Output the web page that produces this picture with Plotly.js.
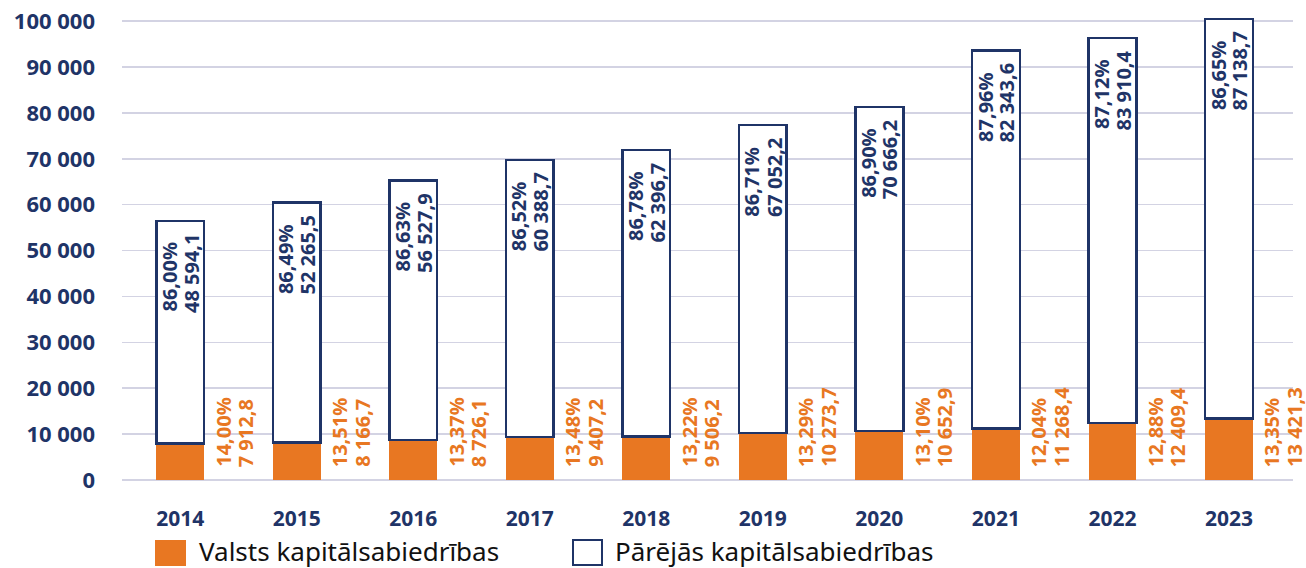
<!DOCTYPE html>
<html>
<head>
<meta charset="utf-8">
<script src="https://cdn.plot.ly/plotly-3.0.1.min.js"></script>
<style>html,body{margin:0;padding:0;background:#fff;}#chart{width:1306px;height:568px;}</style>
</head>
<body>
<div id="chart"></div>
<script>
const years = ['2014','2015','2016','2017','2018','2019','2020','2021','2022','2023'];
const valstsValues = [7912.8, 8166.7, 8726.1, 9407.2, 9506.2, 10273.7, 10652.9, 11268.4, 12409.4, 13421.3];
const valstsPct = ['14,00%','13,51%','13,37%','13,48%','13,22%','13,29%','13,10%','12,04%','12,88%','13,35%'];
const parejasValues = [48594.1, 52265.5, 56527.9, 60388.7, 62396.7, 67052.2, 70666.2, 82343.6, 83910.4, 87138.7];
const parejasPct = ['86,00%','86,49%','86,63%','86,52%','86,78%','86,71%','86,90%','87,96%','87,12%','86,65%'];
const seriesNames = ['Valsts kapitālsabiedrības', 'Pārējās kapitālsabiedrības'];

const NAVY = '#1f3467';
const ORANGE = '#e87722';
const LBL_FONT = 'Open Sans';
const LBL_SIZE = 20;

function fmt(v){
  const s = v.toFixed(1).split('.');
  const intPart = s[0].replace(/\B(?=(\d{3})+(?!\d))/g, ' ');
  return intPart + ',' + s[1];
}
const cv = document.createElement('canvas').getContext('2d');
cv.font = 'bold ' + LBL_SIZE + 'px "' + LBL_FONT + '"';
const tw = s => cv.measureText(s).width;

const traces = [
  {type:'bar', x:years, y:valstsValues, name:seriesNames[0], width:0.41,
   marker:{color:ORANGE, line:{width:0}}, hoverinfo:'y', showlegend:false, cliponaxis:false},
  {type:'bar', x:years, y:parejasValues, name:seriesNames[1], width:0.41,
   marker:{color:'#ffffff', line:{color:NAVY, width:2.5}}, hoverinfo:'y', showlegend:false, cliponaxis:false}
];

const annotations = [];
function lbl(i, y, txt, color, xshift, yshift, yanchor){
  annotations.push({x:i, y:y, xref:'x', yref:'y', yanchor:yanchor, xanchor:'center',
    xshift:xshift, yshift:yshift, textangle:-90, showarrow:false,
    text:'<b>' + txt + '</b>', font:{family:LBL_FONT, size:LBL_SIZE, color:color}});
}
years.forEach((yr,i)=>{
  const total = valstsValues[i] + parejasValues[i];
  const a = parejasPct[i], b = fmt(parejasValues[i]);
  const m = Math.max(tw(a), tw(b));
  lbl(i, total, a, NAVY, -11, -10 - (m - tw(a)), 'top');
  lbl(i, total, b, NAVY, 11, -10 - (m - tw(b)), 'top');
  lbl(i, 0, valstsPct[i], ORANGE, 43, 11, 'bottom');
  lbl(i, 0, fmt(valstsValues[i]), ORANGE, 65, 11, 'bottom');
});

// custom legend (pixel -> paper conversion)
const L=122, R=1293, T=18, B=480;
const YMAX = 100700;
const px = v => (v-L)/(R-L);
const py = v => (B-v)/(B-T);
const shapes = [
  {type:'rect', xref:'paper', yref:'paper', x0:px(155), x1:px(186), y0:py(566), y1:py(540),
   fillcolor:ORANGE, line:{width:0}},
  {type:'rect', xref:'paper', yref:'paper', x0:px(573), x1:px(602), y0:py(565), y1:py(540),
   fillcolor:'#ffffff', line:{color:NAVY, width:2}}
];
annotations.push({xref:'paper', yref:'paper', x:px(197), y:py(551), xanchor:'left', yanchor:'middle',
  showarrow:false, text:seriesNames[0], font:{family:'Noto Sans', size:26, color:'#111'}});
annotations.push({xref:'paper', yref:'paper', x:px(613), y:py(551), xanchor:'left', yanchor:'middle',
  showarrow:false, text:seriesNames[1], font:{family:'Noto Sans', size:26, color:'#111'}});

const layout = {
  width:1306, height:568,
  margin:{l:L, r:1306-R, t:T, b:568-B},
  paper_bgcolor:'#fff', plot_bgcolor:'#fff',
  barmode:'stack',
  separators:', ',
  showlegend:false,
  xaxis:{type:'category', range:[-0.5, 9.55], showgrid:false, zeroline:false, showline:false,
    ticks:'', ticklabelstandoff:24,
    tickfont:{family:'Open Sans', size:21, color:NAVY, weight:'bold'}},
  yaxis:{range:[0,YMAX], dtick:10000, tickformat:',d', showgrid:true, gridcolor:'#d3d3e3', gridwidth:1.5,
    zeroline:true, zerolinecolor:'#d3d3e3', zerolinewidth:1.5, showline:false, ticks:'',
    ticklabelstandoff:26,
    tickfont:{family:'Open Sans', size:22, color:NAVY, weight:'bold'}},
  annotations:annotations,
  shapes:shapes
};

Plotly.newPlot('chart', traces, layout, {displayModeBar:false, staticPlot:true});
</script>
</body>
</html>
